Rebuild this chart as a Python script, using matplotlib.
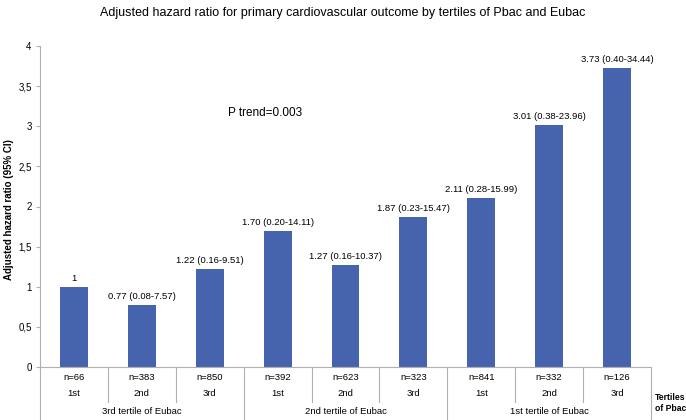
import matplotlib
matplotlib.use("Agg")
import matplotlib.pyplot as plt
from matplotlib.ticker import FuncFormatter

plt.rcParams["font.family"] = ["Liberation Sans", "DejaVu Sans"]

# --- data ---
hazard = [1.00, 0.77, 1.22, 1.70, 1.27, 1.87, 2.11, 3.01, 3.73]
bar_labels = ["1", "0.77 (0.08-7.57)", "1.22 (0.16-9.51)", "1.70 (0.20-14.11)",
              "1.27 (0.16-10.37)", "1.87 (0.23-15.47)", "2.11 (0.28-15.99)",
              "3.01 (0.38-23.96)", "3.73 (0.40-34.44)"]
n_counts = ["n=66", "n=383", "n=850", "n=392", "n=623", "n=323",
            "n=841", "n=332", "n=126"]
pbac_tertiles = ["1st", "2nd", "3rd"] * 3
eubac_groups = ["3rd tertile of Eubac", "2nd tertile of Eubac", "1st tertile of Eubac"]

BLUE = "#4664ae"
GREY = "#b0b0b0"
FS = 6.8

fig = plt.figure(figsize=(6.86, 4.2), dpi=100)
ax = fig.add_axes([40 / 686, 1 - 367 / 420, 611 / 686, 321 / 420])

x = list(range(len(hazard)))
ax.bar(x, hazard, width=0.41, color=BLUE, zorder=2)
for xi, h, lab in zip(x, hazard, bar_labels):
    ax.text(xi, h + 0.05, lab, ha="center", va="bottom", fontsize=FS)

ax.set_xlim(-0.5, len(hazard) - 0.5)
ax.set_ylim(0, 4)
ax.set_yticks([0, 0.5, 1, 1.5, 2, 2.5, 3, 3.5, 4])
ax.yaxis.set_major_formatter(FuncFormatter(lambda v, p: f"{v:g}".replace(".", ",")))
ax.tick_params(axis="y", labelsize=7, length=3, color=GREY, pad=3)
ax.set_xticks([])
for s in ["top", "right"]:
    ax.spines[s].set_visible(False)
ax.spines["left"].set_color(GREY)
ax.spines["bottom"].set_color(GREY)

fig.text(9 / 686, 1 - 210 / 420, "Adjusted hazard ratio (95% CI)", fontsize=7,
         fontweight="bold", rotation=90, ha="center", va="center")

ax.text(2.27, 3.17, "P trend=0.003", fontsize=8.5, va="center", ha="left")

fig.text(343 / 686, 1 - 13 / 420,
         "Adjusted hazard ratio for primary cardiovascular outcome by tertiles of Pbac and Eubac",
         fontsize=9, ha="center", va="center")

# multi-level category table under the axis
trans = ax.get_xaxis_transform()
px = 1 / 321  # one pixel in axes fraction
row_n, row_t, row_g = -10 * px, -27 * px, -45 * px
inner_end, outer_end = -35 * px, -53 * px
for xi, nl, tl in zip(x, n_counts, pbac_tertiles):
    ax.text(xi, row_n, nl, transform=trans, ha="center", va="center", fontsize=FS)
    ax.text(xi, row_t, tl, transform=trans, ha="center", va="center", fontsize=FS)
for gi, gl in enumerate(eubac_groups):
    ax.text(gi * 3 + 1, row_g, gl, transform=trans, ha="center", va="center", fontsize=FS)
for b in range(len(hazard) + 1):
    edge = b - 0.5
    end = outer_end if b % 3 == 0 else inner_end
    ax.plot([edge, edge], [0, end], transform=trans, color=GREY, lw=0.8, clip_on=False)

fig.text(655 / 686, 1 - 403 / 420, "Tertiles\nof Pbac", fontsize=6.2, fontweight="bold",
         ha="left", va="center", linespacing=1.3)

fig.savefig("out.png", dpi=100)
